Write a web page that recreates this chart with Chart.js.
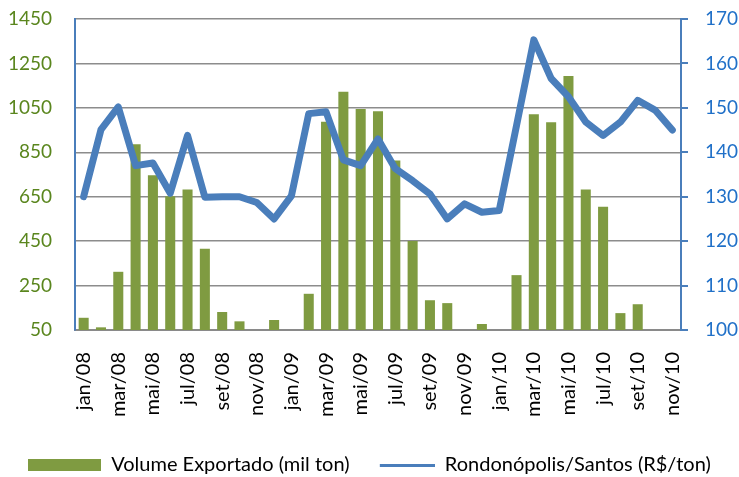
<!DOCTYPE html>
<html>
<head>
<meta charset="utf-8">
<script src="https://cdn.jsdelivr.net/npm/chart.js@4"></script>
<style>
  html, body { margin: 0; padding: 0; background: #fff; }
  #wrap { width: 739px; height: 477px; }
</style>
</head>
<body>
<div id="wrap"><canvas id="grafico" width="739" height="477"></canvas></div>
<script>
var meses = ["jan/08","fev/08","mar/08","abr/08","mai/08","jun/08","jul/08","ago/08","set/08","out/08","nov/08","dez/08",
             "jan/09","fev/09","mar/09","abr/09","mai/09","jun/09","jul/09","ago/09","set/09","out/09","nov/09","dez/09",
             "jan/10","fev/10","mar/10","abr/10","mai/10","jun/10","jul/10","ago/10","set/10","out/10","nov/10"];

// volume exportado (mil ton)
var volume = [105, 62, 312, 886, 747, 652, 683, 416, 131, 89, null, 95,
              null, 213, 987, 1122, 1045, 1035, 813, 451, 184, 171, null, 77,
              null, 297, 1021, 985, 1193, 682, 605, 126, 166, null, null];

// frete Rondonópolis/Santos (R$/ton)
var frete = [130, 145.1, 150.2, 137, 137.6, 130.8, 143.8, 129.9, 130, 130, 128.7, 125,
             130.2, 148.7, 149.1, 138.3, 137, 143, 136.3, 133.6, 130.6, 125, 128.4, 126.5,
             126.9, 146, 165.3, 156.6, 152.5, 146.8, 143.8, 146.8, 151.7, 149.5, 145];

var verde = "#7F9B41";
var azul = "#4A7EBB";
var fonte = "Lato";

// simbolos da legenda
function simbolo(w, h, cor, x0) {
    var c = document.createElement("canvas");
    c.width = w; c.height = h;
    var g = c.getContext("2d");
    g.fillStyle = cor;
    g.fillRect(x0, 0, w - x0, h);
    return c;
}
var simboloBarra = simbolo(73, 12, verde, 0);
var simboloLinha = simbolo(73, 3, azul, 18);

var ctx = document.getElementById("grafico").getContext("2d");
var chart = new Chart(ctx, {
    type: "bar",
    data: {
        labels: meses,
        datasets: [
            {
                type: "line",
                label: "Rondonópolis/Santos (R$/ton)",
                data: frete,
                yAxisID: "y1",
                borderColor: azul,
                backgroundColor: azul,
                borderWidth: 7,
                pointRadius: 0,
                tension: 0,
                borderJoinStyle: "round",
                borderCapStyle: "round",
                order: 0
            },
            {
                label: "Volume Exportado (mil ton)",
                data: volume,
                yAxisID: "y",
                backgroundColor: verde,
                categoryPercentage: 1,
                barPercentage: 0.58,
                order: 1
            }
        ]
    },
    options: {
        responsive: false,
        animation: false,
        layout: { padding: { top: 19, bottom: -8, left: 0, right: 0 } },
        plugins: {
            tooltip: { enabled: false },
            legend: {
                position: "bottom",
                labels: {
                    color: "#1a1a1a",
                    font: { family: fonte, size: 20 },
                    usePointStyle: true,
                    pointStyleWidth: 73,
                    boxHeight: 12,
                    padding: 2,
                    generateLabels: function(c) {
                        return [
                            { text: "Volume Exportado (mil ton)  ", fillStyle: verde, strokeStyle: verde, lineWidth: 0, pointStyle: simboloBarra, datasetIndex: 1 },
                            { text: "Rondonópolis/Santos (R$/ton)", fillStyle: azul, strokeStyle: azul, lineWidth: 0, pointStyle: simboloLinha, datasetIndex: 0 }
                        ];
                    }
                }
            }
        },
        scales: {
            x: {
                grid: { display: false, drawTicks: false },
                border: { color: "#8a8a8a", width: 2 },
                ticks: {
                    autoSkip: false,
                    minRotation: 90,
                    maxRotation: 90,
                    padding: 22,
                    color: "#000",
                    font: { family: fonte, size: 20 },
                    callback: function(v, i) { return i % 2 === 0 ? meses[i] : ""; }
                },
                afterFit: function(s) { s.height = 123; }
            },
            y: {
                position: "left",
                min: 50,
                max: 1450,
                grid: { color: "#8c8c8c", lineWidth: 1.5, drawTicks: true, tickLength: 23, tickColor: "rgba(0,0,0,0)" },
                border: { color: azul, width: 2 },
                ticks: {
                    stepSize: 200,
                    padding: 0,
                    color: "#5A861E",
                    font: { family: fonte, size: 19 },
                    callback: function(v) { return String(v); }
                },
                afterFit: function(s) { s.width = 75; }
            },
            y1: {
                position: "right",
                min: 100,
                max: 170,
                grid: { drawOnChartArea: false, color: azul, lineWidth: 2, tickLength: 24, tickBorderDash: [6, 40] },
                border: { color: azul, width: 2 },
                ticks: {
                    stepSize: 10,
                    padding: 0,
                    color: "#2070C8",
                    font: { family: fonte, size: 19 }
                },
                afterFit: function(s) { s.width = 58; }
            }
        }
    }
});
</script>
</body>
</html>
